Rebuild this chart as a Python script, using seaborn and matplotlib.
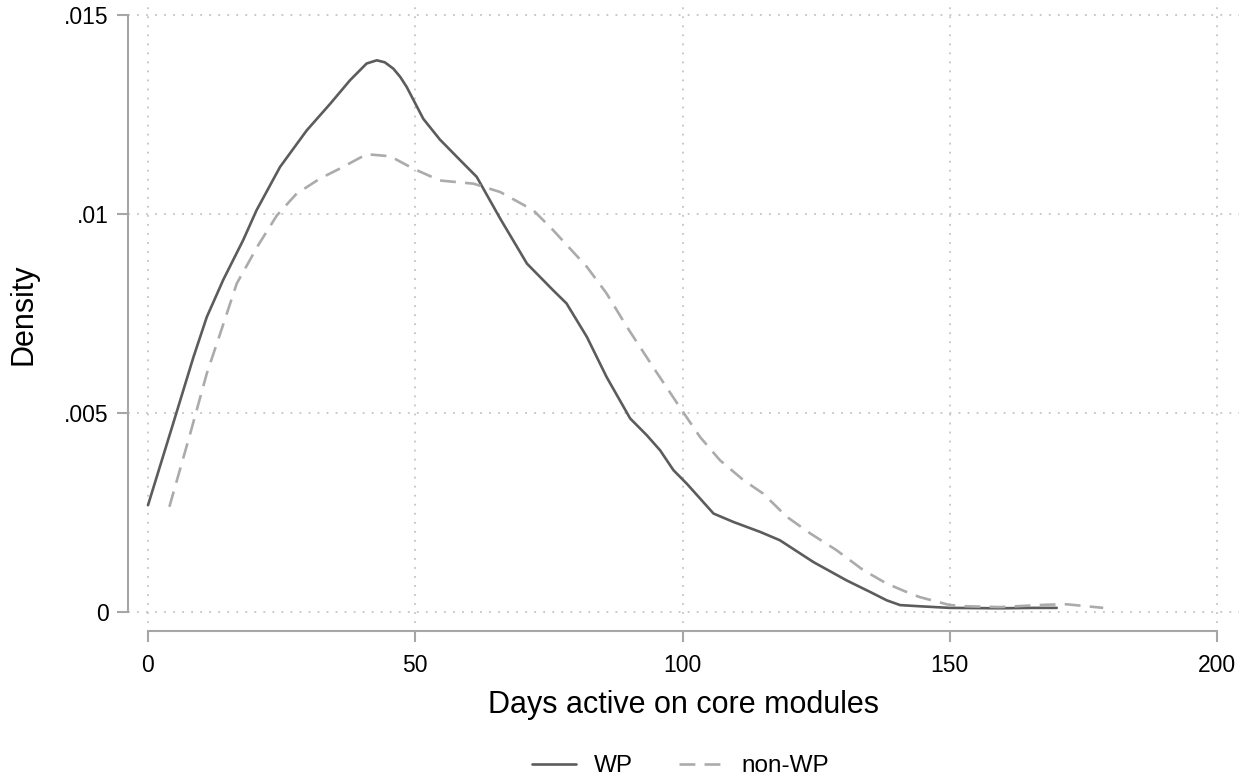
import matplotlib
matplotlib.use("Agg")
import matplotlib.pyplot as plt
import seaborn as sns
import pandas as pd
from matplotlib.lines import Line2D

# ---- data (kernel density estimates) ----
wp_days = [0.0, 4.7, 8.5, 11.0, 14.1, 17.8, 20.3, 24.7, 29.7, 34.1, 37.8, 39.5, 40.9,
           42.8, 44.3, 45.9, 47.2, 48.4, 51.5, 54.6, 58.4, 61.5, 65.9, 70.9, 75.8,
           78.3, 82.1, 85.8, 90.2, 93.3, 95.8, 98.3, 100.8, 105.8, 109.5, 114.5,
           118.2, 124.5, 130.7, 135.1, 138.2, 140.7, 144.4, 150.0, 159.4, 165.6, 170.0]
wp_density = [0.00269, 0.00474, 0.00641, 0.00742, 0.00836, 0.00935, 0.0101, 0.01119,
              0.01211, 0.01278, 0.01337, 0.0136, 0.01379, 0.01387, 0.01382, 0.01366,
              0.01345, 0.0132, 0.0124, 0.01188, 0.01136, 0.01094, 0.00989, 0.00876,
              0.00809, 0.00776, 0.00692, 0.00591, 0.00487, 0.00445, 0.00407, 0.00357,
              0.00323, 0.00248, 0.00227, 0.00202, 0.00181, 0.00126, 0.0008, 0.00051,
              0.0003, 0.00018, 0.00015, 0.00011, 0.0001, 0.00011, 0.00011]

nonwp_days = [4.0, 7.9, 11.0, 13.5, 16.6, 20.6, 24.1, 27.8, 32.2, 35.9, 40.9, 45.3,
              49.6, 54.6, 60.9, 65.9, 72.1, 75.8, 82.1, 85.8, 89.6, 94.5, 99.5, 103.3,
              107.0, 111.4, 115.1, 119.5, 123.9, 128.8, 133.8, 138.2, 142.6, 144.4,
              150.0, 153.2, 159.4, 168.1, 171.9, 178.7]
nonwp_density = [0.00265, 0.00449, 0.006, 0.007, 0.00826, 0.00922, 0.00997, 0.01052,
                 0.0109, 0.01115, 0.01151, 0.01146, 0.01115, 0.01085, 0.01077, 0.01056,
                 0.0101, 0.0096, 0.00868, 0.00801, 0.00717, 0.00616, 0.00515, 0.0044,
                 0.00382, 0.00332, 0.00298, 0.0024, 0.00198, 0.00156, 0.00106, 0.00072,
                 0.00047, 0.00038, 0.00018, 0.00015, 0.00013, 0.00019, 0.0002, 0.00011]

groups = ["WP", "non-WP"]
x_ticks = [0, 50, 100, 150, 200]
y_ticks = [0, 0.005, 0.01, 0.015]
y_tick_labels = ["0", ".005", ".01", ".015"]

df = pd.concat([
    pd.DataFrame({"days": wp_days, "density": wp_density, "group": groups[0]}),
    pd.DataFrame({"days": nonwp_days, "density": nonwp_density, "group": groups[1]}),
], ignore_index=True)

sns.set_theme(style="white")
plt.rcParams["font.family"] = ["Liberation Sans", "DejaVu Sans"]
plt.rcParams["text.color"] = "black"
plt.rcParams["axes.labelcolor"] = "black"

W, H = 1239, 781
fig = plt.figure(figsize=(W / 100, H / 100), dpi=100)
ax = fig.add_axes([128 / W, (H - 623) / H, (W - 128) / W, (623 - 5) / H])

colors = {"WP": "#5c5c5c", "non-WP": "#ababab"}
dashes = {"WP": "", "non-WP": (6, 3.5)}
sns.lineplot(data=df, x="days", y="density", hue="group", style="group",
             palette=colors, dashes=dashes, estimator=None, sort=False,
             linewidth=1.9, ax=ax, legend=False)

ax.set_xlim(-3.74, 204.1)
ax.set_ylim(-0.00027, 0.01526)
ax.set_xticks(x_ticks)
ax.set_xticklabels([str(t) for t in x_ticks])
ax.set_yticks(y_ticks)
ax.set_yticklabels(y_tick_labels)

ax.grid(True, linestyle=(0, (1, 4)), color="#c4c4c4", linewidth=1.3)

spine_col = "#a6a6a6"
for s in ["top", "right"]:
    ax.spines[s].set_visible(False)
ax.spines["left"].set_bounds(0, 0.015)
ax.spines["bottom"].set_bounds(0, 200)
ax.spines["bottom"].set_position(("outward", 6))
for s in ["left", "bottom"]:
    ax.spines[s].set_color(spine_col)
    ax.spines[s].set_linewidth(1.5)

ax.tick_params(axis="both", which="both", colors=spine_col, length=8, width=1.5,
               labelcolor="black", labelsize=16.5, left=True, bottom=True)
ax.tick_params(axis="y", pad=6)
ax.tick_params(axis="x", pad=8)

ax.set_xlabel("Days active on core modules", fontsize=22, labelpad=10, color="black")
ax.set_ylabel("Density", fontsize=22, labelpad=18, color="black")

handles = [Line2D([], [], color=colors["WP"], lw=1.9),
           Line2D([], [], color=colors["non-WP"], lw=1.9, dashes=(6, 3.5))]
fig.legend(handles, groups, loc="center", bbox_to_anchor=(0.549, 0.019), ncol=2,
           frameon=False, fontsize=17.5, handlelength=1.8, columnspacing=1.9,
           handletextpad=0.75, labelcolor="black")

fig.savefig("out.png", dpi=100)
